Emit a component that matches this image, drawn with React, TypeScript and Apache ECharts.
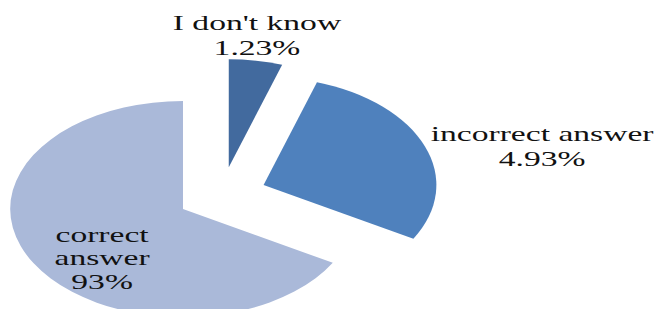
import React, { useEffect, useRef } from "react";
import * as echarts from "echarts";

// Slices, clockwise from 12 o'clock
const categories = ["I don't know", "incorrect answer", "correct answer"];
// Printed percentages shown in the labels
const printedPercent = ["1.23%", "4.93%", "93%"];
// Slice sizes as drawn in the picture (angles)
const sliceValues = [5, 28.3, 66.7];
const sliceColors = ["#426a9e", "#4f81bd", "#aab9d9"];

const STRETCH = 1.6;
const W = 656 / STRETCH;
const H = 309;

export default function App() {
  const ref = useRef<HTMLDivElement>(null);
  useEffect(() => {
    if (!ref.current) return;
    const chart = echarts.init(ref.current, undefined, { renderer: "svg" });
    const labelText = [
      `${categories[0]}\n${printedPercent[0]}`,
      `${categories[1]}\n${printedPercent[1]}`,
      `correct\nanswer\n${printedPercent[2]}`,
    ];
    const labelPos = [
      { x: 160.6, y: 35, lh: 25 },
      { x: 338.8, y: 146, lh: 25 },
      { x: 63.8, y: 258, lh: 23.5 },
    ];
    chart.setOption({
      animation: false,
      backgroundColor: "#ffffff",
      graphic: labelText.map((t, i) => ({
        type: "text",
        x: labelPos[i].x,
        y: labelPos[i].y,
        z: 10,
        silent: true,
        style: {
          text: t,
          fill: "#111111",
          fontSize: 21,
          fontFamily: "Liberation Serif",
          lineHeight: labelPos[i].lh,
          align: "center",
          verticalAlign: "middle",
        },
      })),
      series: [
        {
          type: "pie",
          center: [138.6, 195],
          radius: [0, 108],
          startAngle: 90,
          clockwise: true,
          selectedMode: "multiple",
          selectedOffset: 28,
          avoidLabelOverlap: false,
          label: { show: false },
          labelLine: { show: false },
          emphasis: { disabled: true },
          data: categories.map((c, i) => ({
            name: c,
            value: sliceValues[i],
            selected: true,
            itemStyle: { color: sliceColors[i] },
          })),
        },
      ],
    });
    return () => chart.dispose();
  }, []);
  return (
    <div
      style={{
        position: "absolute",
        left: 0,
        top: 0,
        width: 656,
        height: 309,
        overflow: "hidden",
        background: "#fff",
      }}
    >
      <div
        ref={ref}
        style={{
          width: W,
          height: H,
          transform: `scaleX(${STRETCH})`,
          transformOrigin: "0 0",
        }}
      />
    </div>
  );
}
